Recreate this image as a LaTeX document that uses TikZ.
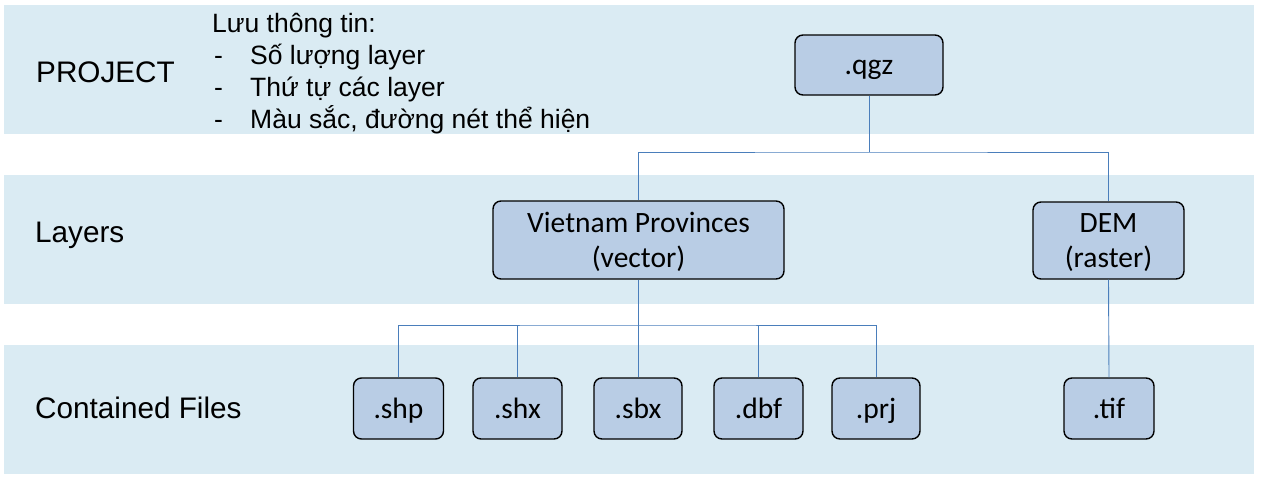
\documentclass[tikz,border=0pt]{standalone}
\usepackage{fontspec}
\setmainfont{Liberation Sans}
\newfontfamily\boxfont{Carlito}
\definecolor{bandc}{HTML}{DAEBF3}
\definecolor{boxc}{HTML}{B9CDE5}
\definecolor{linec}{HTML}{4A7EBB}
\newcommand{\twolines}[2]{\raisebox{-2.5pt}[\height][\depth]{\begin{tabular}{@{}c@{}}#1\\#2\end{tabular}}}
\begin{document}
\begin{tikzpicture}[x=1pt,y=-1pt,
  band/.style={fill=bandc,draw=none},
  fbox/.style={draw=black,line width=1.4pt,fill=boxc,rounded corners=8pt,
    font=\boxfont\fontsize{29.5}{35}\selectfont,inner sep=0pt},
  onel/.style={text height=22pt,text depth=3pt},
  conn/.style={draw=linec,line width=0.9pt},
  lbl/.style={font=\fontsize{29.7}{32}\selectfont,anchor=base west,inner sep=0pt},
  note/.style={font=\fontsize{26.5}{32}\selectfont,anchor=base west,inner sep=0pt}]
\useasboundingbox (0,0) rectangle (1261,479);
\fill[band] (4,5) rectangle (1254,134);
\fill[band] (4,175) rectangle (1254,304);
\fill[band] (4,345) rectangle (1254,474);
% labels
\node[lbl] (lproj) at (36,82) {PROJECT};
\node[lbl] (llay) at (35,242) {Layers};
\node[lbl] (lcf) at (35,418) {Contained Files};
\node[note] (n0) at (212,32) {Lưu thông tin:};
\node[note] (n1d) at (214,64) {-};
\node[note] (n1) at (250,64) {Số lượng layer};
\node[note] (n2d) at (214,96) {-};
\node[note] (n2) at (250,96) {Thứ tự các layer};
\node[note] (n3d) at (214,128) {-};
\node[note] (n3) at (250,128) {Màu sắc, đường nét thể hiện};
% boxes
\node[fbox,onel,minimum width=148pt,minimum height=60pt] (qgz) at (869,65) {.qgz};
\node[fbox,minimum width=291pt,minimum height=78pt] (vn) at (638.5,240) {\twolines{Vietnam Provinces}{(vector)}};
\node[fbox,minimum width=151pt,minimum height=77pt] (dem) at (1108.5,240.5) {\twolines{DEM}{(raster)}};
\node[fbox,onel,minimum width=90pt,minimum height=61pt] (shp) at (398.5,408.5) {.shp};
\node[fbox,onel,minimum width=89pt,minimum height=61pt] (shx) at (517.5,408.5) {.shx};
\node[fbox,onel,minimum width=88pt,minimum height=61pt] (sbx) at (638,408.5) {.sbx};
\node[fbox,onel,minimum width=89pt,minimum height=61pt] (dbf) at (758.5,408.5) {.dbf};
\node[fbox,onel,minimum width=88pt,minimum height=61pt] (prj) at (876,408.5) {.prj};
\node[fbox,onel,minimum width=90pt,minimum height=61pt] (tif) at (1109,408.5) {.tif};
% connectors
\coordinate (j1) at (869,152);
\coordinate (j2) at (638.5,325);
\draw[conn] (qgz.south) -- (j1);
\draw[conn] (vn.north) |- (j1) -| (dem.north);
\draw[conn] (vn.south) -- (j2);
\draw[conn] (shp.north) |- (j2) -| (prj.north);
\draw[conn] (shx.north) -- (shx.north |- j2);
\draw[conn] (dbf.north) -- (dbf.north |- j2);
\draw[conn] (sbx.north) -- (sbx.north |- j2);
\draw[conn] (dem.south) -- (tif.north);
\end{tikzpicture}
\end{document}
